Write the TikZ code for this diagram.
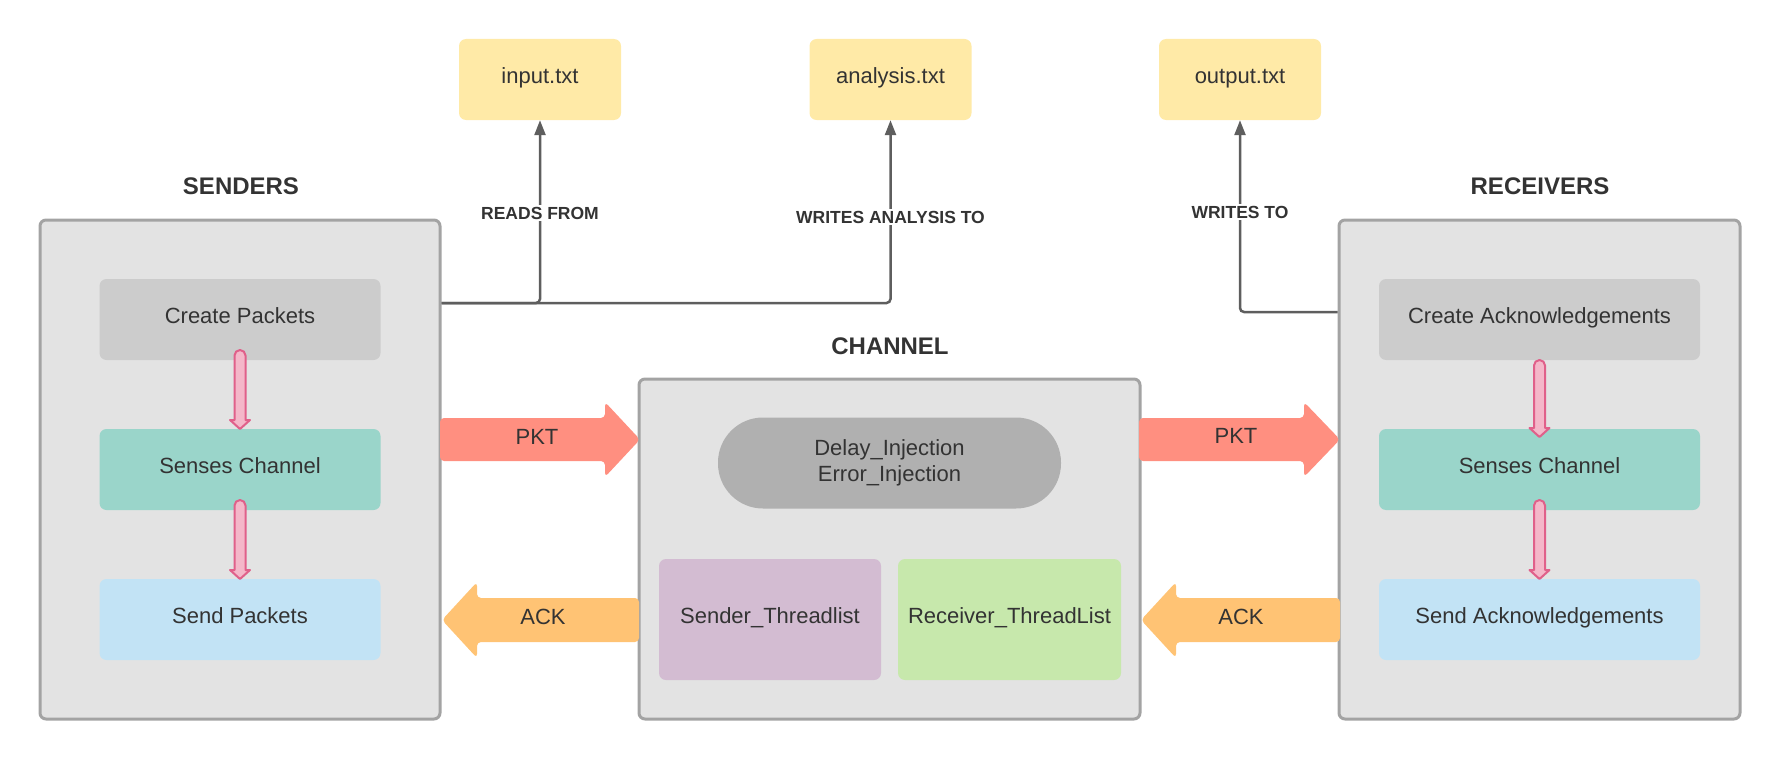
\documentclass[tikz,border=0pt]{standalone}
\usepackage{fontspec}
\setmainfont{Liberation Sans}
\usetikzlibrary{arrows.meta}
\definecolor{boxfill}{HTML}{E3E3E3}
\definecolor{boxborder}{HTML}{A3A3A3}
\definecolor{createc}{HTML}{CCCCCC}
\definecolor{sensec}{HTML}{9AD5CA}
\definecolor{sendc}{HTML}{C2E3F5}
\definecolor{filec}{HTML}{FFEAA7}
\definecolor{stadc}{HTML}{B0B0B0}
\definecolor{sthr}{HTML}{D3BCD2}
\definecolor{rthr}{HTML}{C7E8AC}
\definecolor{pktc}{HTML}{FF8F80}
\definecolor{ackc}{HTML}{FFC374}
\definecolor{pinkf}{HTML}{F4B7C9}
\definecolor{pinkd}{HTML}{E0608A}
\definecolor{txt}{HTML}{333333}
\definecolor{linec}{HTML}{5E5E5E}
\newcommand{\bodyfont}{\fontsize{22}{26}\selectfont}
\newcommand{\titlefont}{\fontsize{24}{28}\selectfont\bfseries}
\newcommand{\lblfont}{\fontsize{17.5}{20}\selectfont\bfseries}
\begin{document}
\begin{tikzpicture}[x=1pt,y=-1pt,
  group/.style={draw=boxborder, line width=3pt, fill=boxfill, rounded corners=6pt, inner sep=0pt},
  stagebox/.style={rounded corners=7pt, text=txt, font=\bodyfont, minimum height=81pt, inner sep=0pt, text height=16pt, text depth=8pt},
  filebox/.style={fill=filec, rounded corners=7pt, text=txt, font=\bodyfont, minimum width=162pt, minimum height=81pt, inner sep=0pt, text height=16pt, text depth=8pt},
  title/.style={text=txt, font=\titlefont, inner sep=0pt},
  conn/.style={draw=linec, line width=2.5pt, rounded corners=4pt, -{Triangle[length=15pt,width=11pt]}},
  lbl/.style={fill=white, text=txt, font=\lblfont, inner sep=2pt},
  fat/.style={rounded corners=4pt},
  fatlbl/.style={text=txt, font=\bodyfont, inner sep=0pt},
  pinkarrow/.style={fill=pinkf, draw=pinkd, line width=2pt, line join=round}
]
\useasboundingbox (0,0) rectangle (1781,760);

% group boxes
\node[group, minimum width=400pt, minimum height=499pt] (senders) at (240,469.5) {};
\node[group, minimum width=401pt, minimum height=499pt] (receivers) at (1539.5,469.5) {};
\node[group, minimum width=501pt, minimum height=340pt] (channel) at (889.5,549) {};

% titles
\node[title] (tsend) at (241,186) {SENDERS};
\node[title] (trecv) at (1540,186) {RECEIVERS};
\node[title] (tchan) at (890,346) {CHANNEL};

% files
\node[filebox] (input) at (540,79.5) {input.txt};
\node[filebox] (analysis) at (890.5,79.5) {analysis.txt};
\node[filebox] (output) at (1240,79.5) {output.txt};

% sender stages
\node[stagebox, fill=createc, minimum width=281pt] (screate) at (240,319.5) {Create Packets};
\node[stagebox, fill=sensec, minimum width=281pt] (ssense) at (240,469.5) {Senses Channel};
\node[stagebox, fill=sendc, minimum width=281pt] (ssend) at (240,619.5) {Send Packets};

% receiver stages
\node[stagebox, fill=createc, minimum width=321pt] (rcreate) at (1539.5,319.5) {Create Acknowledgements};
\node[stagebox, fill=sensec, minimum width=321pt] (rsense) at (1539.5,469.5) {Senses Channel};
\node[stagebox, fill=sendc, minimum width=321pt] (rsend) at (1539.5,619.5) {Send Acknowledgements};

% channel content
\node[fill=stadc, rounded corners=45pt, minimum width=343pt, minimum height=91pt, text=txt, font=\bodyfont, align=center, inner sep=0pt] (inject) at (889.5,463) {Delay\_Injection\\Error\_Injection};
\node[stagebox, fill=sthr, minimum width=222pt, minimum height=121pt] (sthread) at (770,619.5) {Sender\_Threadlist};
\node[stagebox, fill=rthr, minimum width=223pt, minimum height=121pt] (rthread) at (1009.5,619.5) {Receiver\_ThreadList};

% pink internal arrows
\foreach \x/\ya/\yb in {240/350/429, 240/500/579, 1539.5/360/437, 1539.5/500/579}{
  \draw[pinkarrow] (\x-5.5,\yb-9) -- (\x-5.5,\ya+5.5) arc[start angle=180,end angle=360,radius=5.5]
    -- (\x+5.5,\yb-9) -- (\x+10,\yb-9) -- (\x,\yb) -- (\x-10,\yb-9) -- cycle;
}

% fat arrows
\fill[pktc, fat] (440,418) -- (605,418) -- (605,402) -- (640,439.5) -- (605,477) -- (605,461) -- (440,461) -- cycle;
\node[fatlbl] (pkt1) at (537,437) {PKT};
\fill[ackc, fat] (639,598) -- (477,598) -- (477,582) -- (442,620) -- (477,658) -- (477,642) -- (639,642) -- cycle;
\node[fatlbl] (ack1) at (543,617) {ACK};
\fill[pktc, fat] (1139,418) -- (1304,418) -- (1304,402) -- (1340,439.5) -- (1304,477) -- (1304,461) -- (1139,461) -- cycle;
\node[fatlbl] (pkt2) at (1236,436) {PKT};
\fill[ackc, fat] (1340,598) -- (1176,598) -- (1176,582) -- (1141,620) -- (1176,658) -- (1176,642) -- (1340,642) -- cycle;
\node[fatlbl] (ack2) at (1241,617) {ACK};

% connectors
\coordinate (sout) at (senders.east |- 0,303);
\coordinate (rout) at (receivers.west |- 0,312);
\draw[conn] (sout) -| (input.south);
\draw[conn] (sout) -| (analysis.south);
\draw[conn] (rout) -| (output.south);
\node[lbl] (l1) at (540,213) {READS FROM};
\node[lbl] (l2) at (890.5,217) {WRITES ANALYSIS TO};
\node[lbl] (l3) at (1240,212) {WRITES TO};
\end{tikzpicture}
\end{document}
